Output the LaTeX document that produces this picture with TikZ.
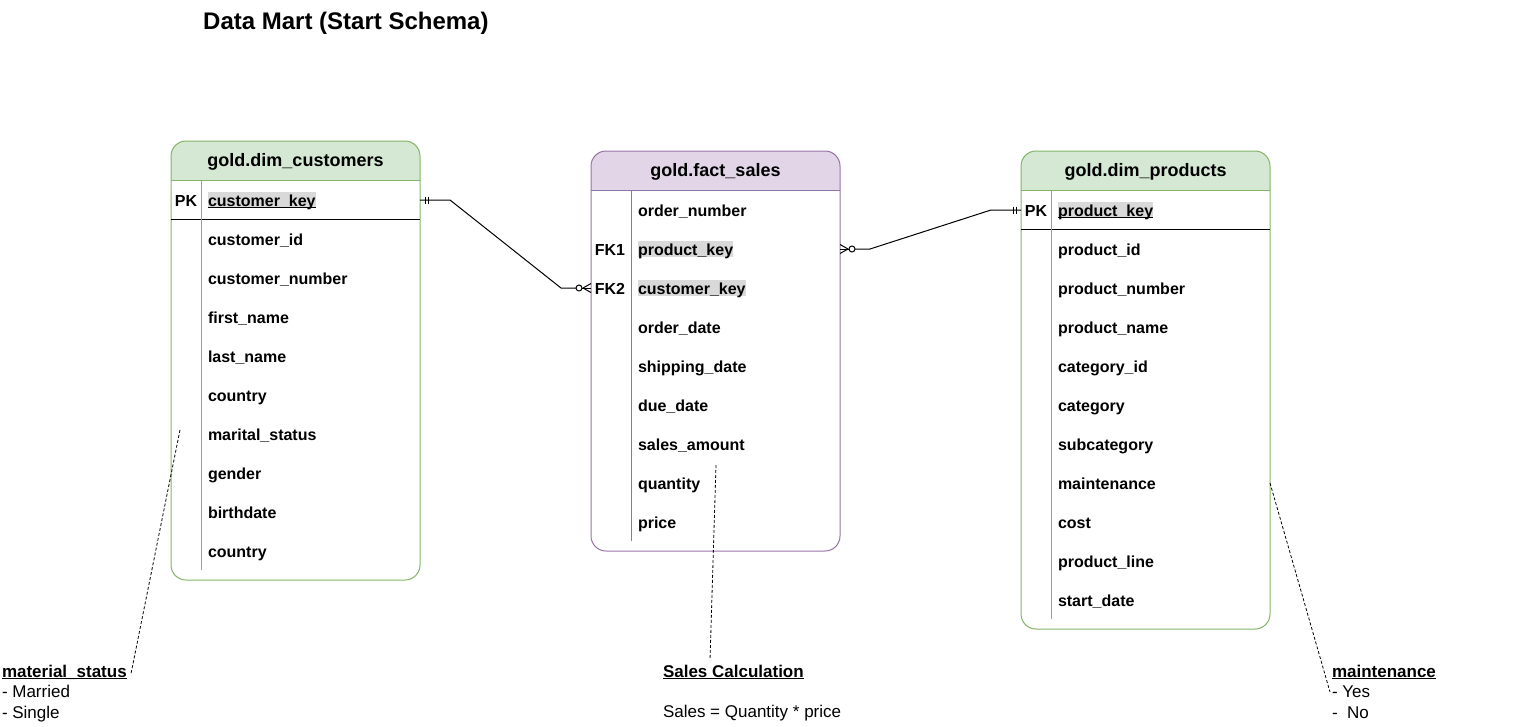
\documentclass[tikz,border=0pt]{standalone}
\usepackage{fontspec}
\setmainfont{Liberation Sans}
\usetikzlibrary{calc}
\definecolor{gstroke}{HTML}{82B366}
\definecolor{gfill}{HTML}{D5E8D4}
\definecolor{pstroke}{HTML}{9673A6}
\definecolor{pfill}{HTML}{E1D5E7}
\definecolor{hl}{HTML}{D9D9D9}
\tikzset{
  field/.style={anchor=west, inner sep=0pt, outer sep=0pt, text height=14pt, text depth=2pt, font=\fontsize{16}{19}\selectfont\bfseries},
  keyfield/.style={field, fill=hl},
  keylbl/.style={anchor=center, inner sep=0pt, outer sep=0pt, text height=14pt, text depth=2pt, font=\fontsize{16}{19}\selectfont\bfseries},
  hdr/.style={anchor=center, inner sep=0pt, text height=15pt, text depth=3pt, font=\fontsize{18}{21}\selectfont\bfseries},
  frame/.style={draw, line width=1pt, rounded corners=15pt, inner sep=0pt, outer sep=0pt, anchor=north west, minimum width=249pt},
  conn/.style={draw=black, line width=1pt},
  note/.style={draw=black, dash pattern=on 3pt off 2pt, line width=0.8pt},
  ann/.style={anchor=base west, inner sep=0pt, outer sep=0pt, font=\fontsize{17}{20}\selectfont},
  uline/.style={draw=black, line width=1pt},
}
\begin{document}
\begin{tikzpicture}[x=1pt,y=-1pt]
\useasboundingbox (0,0) rectangle (1530,726);

% title
\node[anchor=base west, inner sep=0pt, font=\fontsize{24}{28}\selectfont\bfseries] (title) at (203,29) {Data Mart (Start Schema)};

% ===== customers =====
\begin{scope}
  \clip[rounded corners=15pt] (171,141) rectangle (420,580);
  \fill[gfill] (171,141) rectangle (420,180);
\end{scope}
\node[frame, draw=gstroke, minimum height=439pt] (cust) at (171,141) {};
\draw[gstroke, line width=1pt] (171,180) -- (420,180);
\draw[black, line width=1pt] (171,219) -- (420,219);
\draw[gstroke, line width=1pt] (201,180) -- (201,570);
\node[hdr] (custh) at (295.5,160.5) {gold.dim\_customers};
\node[keylbl] (cpk) at (186,200) {PK};
\node[keyfield] (ck) at (208,200) {customer\_key};
\draw[uline] ([yshift=0.5pt]ck.south west) -- ([yshift=0.5pt]ck.south east);
\foreach \t [count=\i] in {customer\_id, customer\_number, first\_name, last\_name, country, marital\_status, gender, birthdate, country}
  \node[field] (c\i) at (208,200+39*\i) {\t};

% ===== fact =====
\begin{scope}
  \clip[rounded corners=15pt] (591,151) rectangle (840,551);
  \fill[pfill] (591,151) rectangle (840,190);
\end{scope}
\node[frame, draw=pstroke, minimum height=400pt] (fact) at (591,151) {};
\draw[pstroke, line width=1pt] (591,190) -- (840,190);
\draw[pstroke, line width=1pt] (631,190) -- (631,541);
\node[hdr] (facth) at (715.5,170.5) {gold.fact\_sales};
\node[field] (f0) at (638,210) {order\_number};
\node[keylbl] (fk1) at (610,249) {FK1};
\node[keyfield] (fpk) at (638,249) {product\_key};
\node[keylbl] (fk2) at (610,288) {FK2};
\node[keyfield] (fck) at (638,288) {customer\_key};
\foreach \t [count=\i from 3] in {order\_date, shipping\_date, due\_date, sales\_amount, quantity, price}
  \node[field] (f\i) at (638,210+39*\i) {\t};

% ===== products =====
\begin{scope}
  \clip[rounded corners=15pt] (1021,151) rectangle (1270,629);
  \fill[gfill] (1021,151) rectangle (1270,190);
\end{scope}
\node[frame, draw=gstroke, minimum height=478pt] (prod) at (1021,151) {};
\draw[gstroke, line width=1pt] (1021,190) -- (1270,190);
\draw[black, line width=1pt] (1021,229) -- (1270,229);
\draw[gstroke, line width=1pt] (1051,190) -- (1051,619);
\node[hdr] (prodh) at (1145.5,170.5) {gold.dim\_products};
\node[keylbl] (ppkl) at (1036,210) {PK};
\node[keyfield] (ppk) at (1058,210) {product\_key};
\draw[uline] ([yshift=0.5pt]ppk.south west) -- ([yshift=0.5pt]ppk.south east);
\foreach \t [count=\i] in {product\_id, product\_number, product\_name, category\_id, category, subcategory, maintenance, cost, product\_line, start\_date}
  \node[field] (p\i) at (1058,210+39*\i) {\t};

% ===== connectors =====
\coordinate (a1) at (cust.east |- ck.west);
\coordinate (b1) at (fact.west |- fck.west);
\draw[conn] (a1) -- ++(30,0) -- ($(b1)+(-30,0)$) -- ($(b1)+(-15,0)$);
\draw[conn] ($(b1)+(-9,0)$) -- (b1);
\draw[conn] ($(a1)+(5,-3.5)$) -- ++(0,7);
\draw[conn] ($(a1)+(8,-3.5)$) -- ++(0,7);
\draw[conn, fill=white] ($(b1)+(-12,0)$) circle (3pt);
\draw[conn] ($(b1)+(-8,0)$) -- ($(b1)+(0,-4.5)$);
\draw[conn] ($(b1)+(-8,0)$) -- ($(b1)+(0,4.5)$);

\coordinate (a2) at (fact.east |- fpk.west);
\coordinate (b2) at (prod.west |- ppk.west);
\draw[conn] ($(a2)+(15,0)$) -- ($(a2)+(30,0)$) -- ($(b2)+(-30,0)$) -- (b2);
\draw[conn] (a2) -- ($(a2)+(9,0)$);
\draw[conn] ($(b2)+(-5,-3.5)$) -- ++(0,7);
\draw[conn] ($(b2)+(-8,-3.5)$) -- ++(0,7);
\draw[conn, fill=white] ($(a2)+(12,0)$) circle (3pt);
\draw[conn] ($(a2)+(8,0)$) -- ($(a2)+(0,-4.5)$);
\draw[conn] ($(a2)+(8,0)$) -- ($(a2)+(0,4.5)$);

% ===== annotations =====
\node[ann] (ms) at (2,677) {\textbf{material\_status}};
\draw[uline] ([yshift=-1.5pt]ms.base west) -- ([yshift=-1.5pt]ms.base east);
\node[ann] (ms1) at (2,697) {- Married};
\node[ann] (ms2) at (2,718) {- Single};
\coordinate (m1) at (180,430);
\draw[note] (m1) -- ($(ms.base east)+(4,-2)$);

\node[ann] (sc) at (663,677) {\textbf{Sales Calculation}};
\draw[uline] ([yshift=-1.5pt]sc.base west) -- ([yshift=-1.5pt]sc.base east);
\node[ann] (sf) at (663,717) {Sales = Quantity * price};
\coordinate (s1) at (716,465);
\draw[note] (s1) -- ($(sc.base west)+(47,-17)$);

\node[ann] (mt) at (1332,677) {\textbf{maintenance}};
\draw[uline] ([yshift=-1.5pt]mt.base west) -- ([yshift=-1.5pt]mt.base east);
\node[ann] (mt1) at (1332,697) {- Yes};
\node[ann] (mt2) at (1332,718) {-~~No};
\coordinate (t1) at (prod.east |- p7.west);
\draw[note] (t1) -- ($(mt1.base west)+(-2,-5)$);
\end{tikzpicture}
\end{document}
